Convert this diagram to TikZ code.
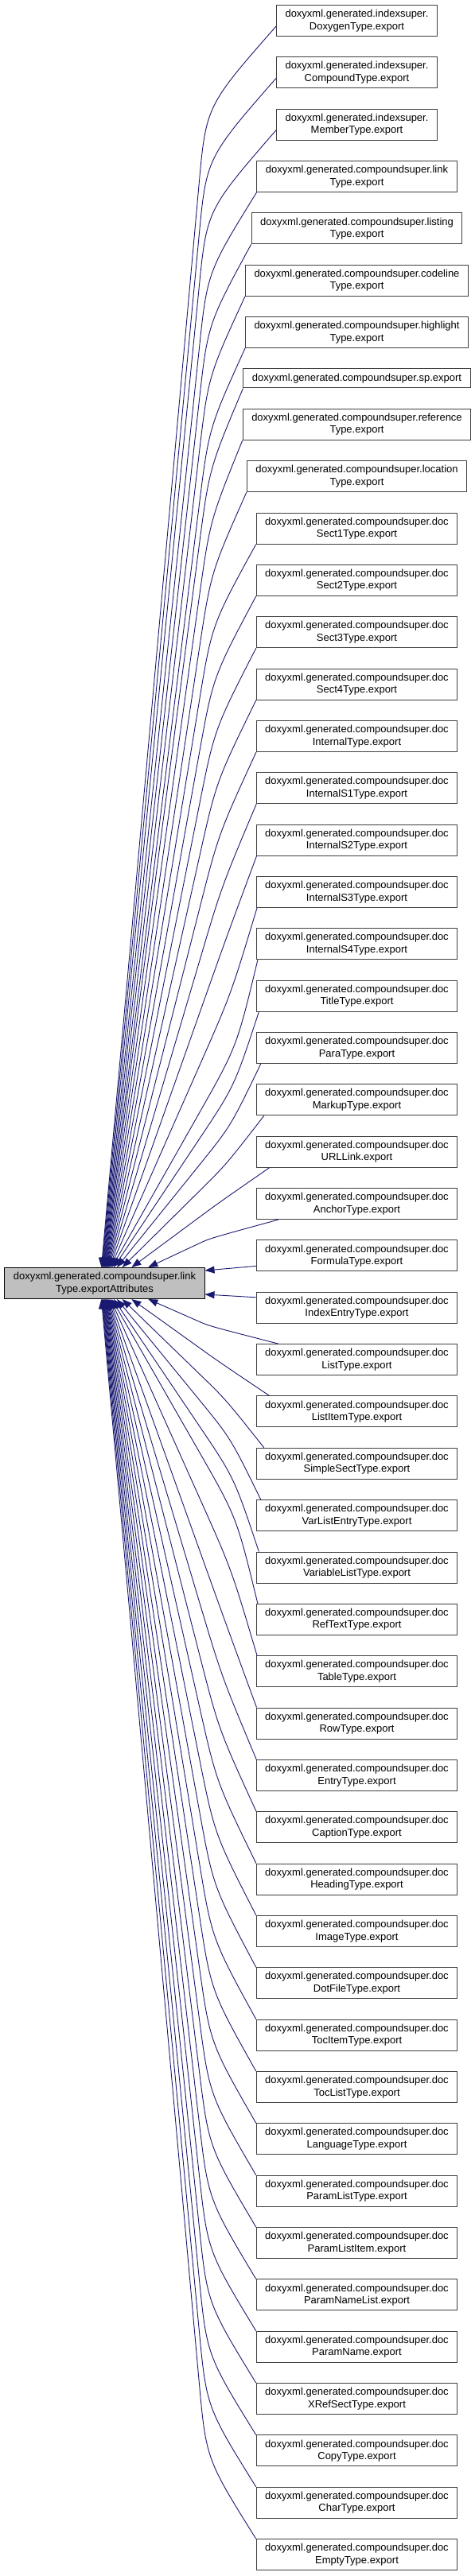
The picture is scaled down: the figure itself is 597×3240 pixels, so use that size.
\documentclass[tikz,border=0pt]{standalone}
\usepackage{fontspec}
\setmainfont{Liberation Sans}
\usetikzlibrary{arrows.meta, positioning, calc}
\definecolor{edgecolor}{RGB}{25,25,112}
\definecolor{framecolor}{RGB}{64,64,64}
\definecolor{maincolor}{RGB}{191,191,191}

\begin{document}
\begin{tikzpicture}[
    x=1pt, y=1pt,
    node distance=25.35pt,
    box/.style={rectangle, draw=framecolor, line width=1pt, fill=white, minimum height=39pt, inner xsep=11pt, inner ysep=0pt, align=center, font=\fontsize{13}{15.5}\selectfont},
    mainbox/.style={box, draw=black, fill=maincolor},
    arrow/.style={-{Triangle[length=12pt, width=9pt]}, color=edgecolor, line width=0.9pt},
]
\useasboundingbox (0,0) rectangle (597,-3240);

% caller: the highlighted function
\node[mainbox] (main) at (131.5,-1614) {doxyxml.generated.compoundsuper.link\\Type.exportAttributes};

% callers
\node[box] (n1) at (448.5,-26) {doxyxml.generated.indexsuper.\\DoxygenType.export};
\node[box, below=of n1] (n2) {doxyxml.generated.indexsuper.\\CompoundType.export};
\node[box, below=of n2] (n3) {doxyxml.generated.indexsuper.\\MemberType.export};
\node[box, below=of n3] (n4) {doxyxml.generated.compoundsuper.link\\Type.export};
\node[box, below=of n4] (n5) {doxyxml.generated.compoundsuper.listing\\Type.export};
\node[box, below=of n5] (n6) {doxyxml.generated.compoundsuper.codeline\\Type.export};
\node[box, below=of n6] (n7) {doxyxml.generated.compoundsuper.highlight\\Type.export};
\node[box, minimum height=24pt, below=of n7] (n8) {doxyxml.generated.compoundsuper.sp.export};
\node[box, below=of n8] (n9) {doxyxml.generated.compoundsuper.reference\\Type.export};
\node[box, below=of n9] (n10) {doxyxml.generated.compoundsuper.location\\Type.export};

\foreach \nm [count=\i from 11] in {Sect1Type, Sect2Type, Sect3Type, Sect4Type, InternalType,
    InternalS1Type, InternalS2Type, InternalS3Type, InternalS4Type, TitleType, ParaType,
    MarkupType, URLLink, AnchorType, FormulaType, IndexEntryType, ListType, ListItemType,
    SimpleSectType, VarListEntryType, VariableListType, RefTextType, TableType, RowType,
    EntryType, CaptionType, HeadingType, ImageType, DotFileType, TocItemType, TocListType,
    LanguageType, ParamListType, ParamListItem, ParamNameList, ParamName, XRefSectType,
    CopyType, CharType, EmptyType} {
  \pgfmathtruncatemacro\j{\i-1}
  \node[box, below=of n\j] (n\i) {doxyxml.generated.compoundsuper.doc\\\nm.export};
}

% edges into the top side
\foreach \k in {1,...,24} {
  \pgfmathsetmacro\dd{24-\k}
  \pgfmathsetmacro\xo{\k<4 ? 0 : 28*0.6^\dd}
  \pgfmathsetmacro\yo{\k<4 ? 13 : 0}
  \pgfmathsetmacro\xe{122+0.6*(23-\dd)+45*0.55^\dd}
  \coordinate (s) at ([xshift=\xo pt, yshift=\yo pt]n\k.south west);
  \coordinate (e) at ([xshift=\xe pt]main.north west);
  \draw[arrow] let \p1=(s), \p2=(e), \n1={min(200,0.5*((\y1)-(\y2)))},
      \p3=({250pt},{(\y1)-\n1}),
      \n2={100*veclen(((\x3)-(\x2))/100,((\y3)-(\y2))/100)},
      \p4=({(\x3)+0.5*\n1*(((\x3)-(\x2))/\n2)},{(\y3)+0.5*\n1*(((\y3)-(\y2))/\n2)}) in
      (s) .. controls (\p4) .. (\p3) -- (e);
}

% edges into the right side
\draw[arrow] ([yshift=-13pt]n25.west) -- ([yshift=16pt]main.east);
\draw[arrow] ([yshift=13pt]n26.west) -- ([yshift=-14pt]main.east);

% edges into the bottom side
\foreach \k in {27,...,50} {
  \pgfmathsetmacro\dd{\k-27}
  \pgfmathsetmacro\xo{28*0.6^\dd}
  \pgfmathsetmacro\xe{122+0.6*(23-\dd)+45*0.55^\dd}
  \coordinate (s) at ([xshift=\xo pt]n\k.north west);
  \coordinate (e) at ([xshift=\xe pt]main.south west);
  \draw[arrow] let \p1=(s), \p2=(e), \n1={min(200,0.5*((\y2)-(\y1)))},
      \p3=({250pt},{(\y1)+\n1}),
      \n2={100*veclen(((\x3)-(\x2))/100,((\y3)-(\y2))/100)},
      \p4=({(\x3)+0.5*\n1*(((\x3)-(\x2))/\n2)},{(\y3)+0.5*\n1*(((\y3)-(\y2))/\n2)}) in
      (s) .. controls (\p4) .. (\p3) -- (e);
}

\end{tikzpicture}
\end{document}
